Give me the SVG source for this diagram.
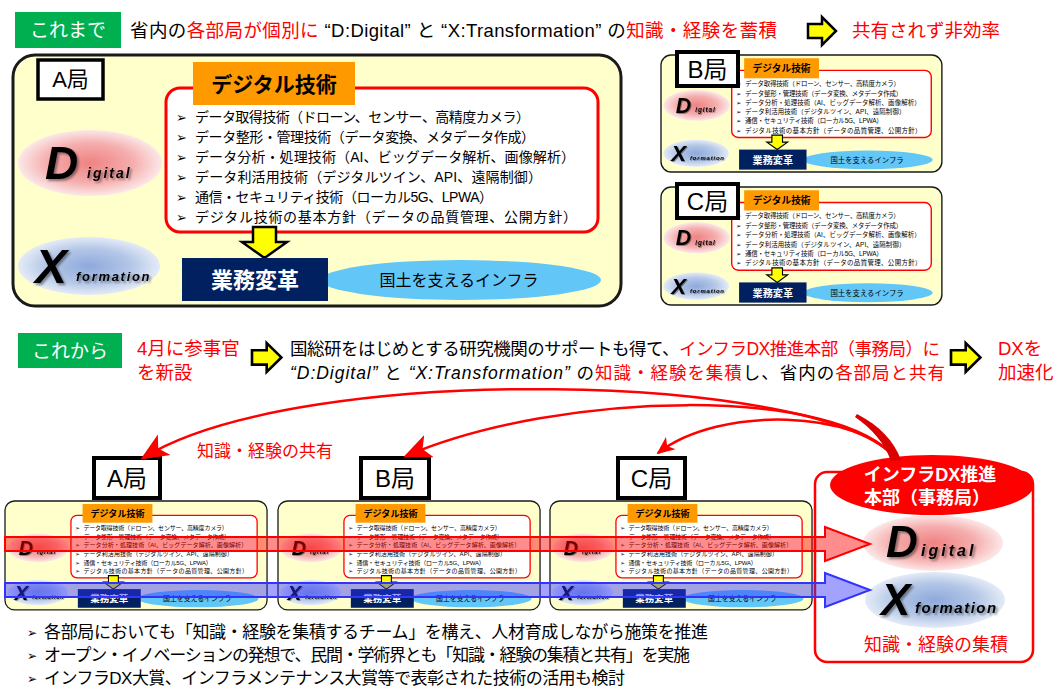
<svg xmlns="http://www.w3.org/2000/svg" xmlns:xlink="http://www.w3.org/1999/xlink" width="1059" height="689" viewBox="0 0 1059 689">
<style>
text { font-family: "Liberation Sans", "Noto Sans CJK JP", sans-serif; fill: #000; }
.red { fill: #FF0000; }
.wht { fill: #FFFFFF; }
.it { font-style: italic; }
.b { font-weight: bold; }
.mid { text-anchor: middle; }
.bul { font-family: "DejaVu Sans", sans-serif; }
.bigL { font-family: "Liberation Sans", sans-serif; font-weight: bold; font-style: italic; filter: url(#sh); }
.lbl { fill: #FFFFFF; stroke: #000; stroke-width: 4; }
.yarr { fill: #FFFF00; stroke: #000; stroke-width: 2.5; stroke-linejoin: miter; }
.green { fill: #00B050; }
.curve { fill: none; stroke: #FF0000; stroke-width: 2.5; }
</style>
<defs>
  <radialGradient id="gD" cx="0.5" cy="0.5" r="0.5">
    <stop offset="0" stop-color="#F08282"/>
    <stop offset="0.6" stop-color="#F5AEAE"/>
    <stop offset="1" stop-color="#FCE8E8"/>
  </radialGradient>
  <radialGradient id="gX" cx="0.5" cy="0.5" r="0.5">
    <stop offset="0" stop-color="#8EA9DB"/>
    <stop offset="0.6" stop-color="#B4C7E7"/>
    <stop offset="1" stop-color="#E4EBF7"/>
  </radialGradient>
  <filter id="sh" x="-30%" y="-30%" width="160%" height="160%">
    <feDropShadow dx="2" dy="2" stdDeviation="1.2" flood-color="#000" flood-opacity="0.4"/>
  </filter>
  <marker id="ah" markerUnits="userSpaceOnUse" markerWidth="28" markerHeight="28" viewBox="0 0 28 28" refX="25" refY="14" orient="auto">
    <path d="M0,2 L28,14 L0,26 L7,14 Z" fill="#FF0000"/>
  </marker>
  <marker id="ah2" markerUnits="userSpaceOnUse" markerWidth="18" markerHeight="18" viewBox="0 0 28 28" refX="25" refY="14" orient="auto">
    <path d="M0,2 L28,14 L0,26 L7,14 Z" fill="#FF0000"/>
  </marker>
  <path id="yarr" d="M0,7 H14 V0 L28,14 L14,28 V21 H0 Z"/>
  <g id="panelContent">
    <rect x="0" y="0" width="608" height="251" rx="22" fill="#FFFFCC" stroke="#1a1a1a" stroke-width="3"/>
    <ellipse cx="77" cy="108" rx="72" ry="33" fill="url(#gD)"/>
    <text x="32" y="124" class="bigL" font-size="46">D</text>
    <text x="74" y="123" class="bigL" font-size="14" letter-spacing="2">igital</text>
    <ellipse cx="76" cy="211" rx="71" ry="29" fill="url(#gX)"/>
    <text x="22" y="228" class="bigL" font-size="48">X</text>
    <text x="63" y="226" class="bigL" font-size="13" letter-spacing="1.7">formation</text>
    <rect x="153" y="33" width="432" height="144" rx="14" fill="#FFFFFF" stroke="#FF0000" stroke-width="3"/>
    <rect x="180" y="7" width="162" height="43" fill="#FF9900"/>
    <text x="261" y="37" font-size="21" class="b mid">デジタル技術</text>
    <g font-size="13">
      <text class="bul" x="163" y="67">➢</text>
      <text class="bul" x="163" y="87">➢</text>
      <text class="bul" x="163" y="107">➢</text>
      <text class="bul" x="163" y="127">➢</text>
      <text class="bul" x="163" y="147">➢</text>
      <text class="bul" x="163" y="167">➢</text>
    </g>
    <g font-size="14">
      <text x="182" y="67" textLength="335">データ取得技術（ドローン、センサー、高精度カメラ）</text>
      <text x="182" y="87" textLength="340">データ整形・管理技術（データ変換、メタデータ作成）</text>
      <text x="182" y="107" textLength="380">データ分析・処理技術（AI、ビッグデータ解析、画像解析）</text>
      <text x="182" y="127" textLength="347">データ利活用技術（デジタルツイン、API、遠隔制御）</text>
      <text x="182" y="147" textLength="298">通信・セキュリティ技術（ローカル5G、LPWA）</text>
      <text x="182" y="167" textLength="382">デジタル技術の基本方針（データの品質管理、公開方針）</text>
    </g>
    <path d="M240,172 H263 V187 H274 L251.5,203 L229,187 H240 Z" fill="#FFFF00" stroke="#000" stroke-width="2.5"/>
    <ellipse cx="448" cy="225" rx="140" ry="20" fill="#62C6F6"/>
    <rect x="169" y="203" width="146" height="43" fill="#002060"/>
    <text x="242" y="233" font-size="22" class="b mid wht">業務変革</text>
    <text x="446" y="231" font-size="16" class="mid">国土を支えるインフラ</text>
  </g>
</defs>

<!-- Header: これまで -->
<g id="header-before">
  <rect class="green" x="15" y="12" width="106" height="36"/>
  <text x="68" y="37" font-size="19" class="mid wht">これまで</text>
  <text x="130" y="37" font-size="18.5" textLength="647"><tspan>省内の</tspan><tspan class="red">各部局が個別に</tspan><tspan> “D:Digital” と “X:Transformation” の</tspan><tspan class="red">知識・経験を蓄積</tspan></text>
  <use href="#yarr" class="yarr" transform="translate(808,17)"/>
  <text x="852" y="37" font-size="18.5" class="red">共有されず非効率</text>
</g>

<!-- Top A panel -->
<g id="panelA-top">
  <use href="#panelContent" transform="translate(13,55)"/>
  <rect x="38" y="60" width="65" height="39" fill="#FFFFFF" stroke="#000" stroke-width="3.5"/>
  <text x="70.5" y="87" font-size="22" class="mid">A局</text>
</g>
<g id="panelB-top">
  <use href="#panelContent" transform="translate(661,55) scale(0.462,0.466)"/>
  <rect class="lbl" x="677" y="52" width="61" height="34"/>
  <text x="707.5" y="78" font-size="24" class="mid">B局</text>
</g>
<g id="panelC-top">
  <use href="#panelContent" transform="translate(661,187) scale(0.462,0.47)"/>
  <rect class="lbl" x="677" y="184" width="61" height="34"/>
  <text x="707.5" y="210" font-size="24" class="mid">C局</text>
</g>

<!-- Header: これから -->
<g id="header-after">
  <rect class="green" x="18" y="333" width="104" height="35"/>
  <text x="70" y="358" font-size="19" class="mid wht">これから</text>
  <text x="137" y="355" font-size="18.5" class="red">4月に参事官</text>
  <text x="137" y="379" font-size="18.5" class="red">を新設</text>
  <use href="#yarr" class="yarr" transform="translate(252,343) scale(1.05,1.03)"/>
  <text x="290" y="355" font-size="17.5" textLength="650"><tspan>国総研をはじめとする研究機関のサポートも得て、</tspan><tspan class="red">インフラDX推進本部（事務局）に</tspan></text>
  <text x="290" y="379" font-size="17.5" textLength="655"><tspan class="it">“D:Digital”</tspan><tspan> と </tspan><tspan class="it">“X:Transformation”</tspan><tspan> の</tspan><tspan class="red">知識・経験を集積</tspan><tspan>し、省内の</tspan><tspan class="red">各部局と共有</tspan></text>
  <use href="#yarr" class="yarr" transform="translate(951,343) scale(1.05,1.03)"/>
  <text x="998" y="355" font-size="18.5" class="red">DXを</text>
  <text x="998" y="379" font-size="18.5" class="red">加速化</text>
</g>

<!-- Bottom panels -->
<g id="panelA-bottom">
  <use href="#panelContent" transform="translate(5,501) scale(0.431,0.434)"/>
  <rect class="lbl" x="94" y="458" width="66" height="40"/>
  <text x="127" y="487" font-size="24" class="mid">A局</text>
</g>
<g id="panelB-bottom">
  <use href="#panelContent" transform="translate(278,501) scale(0.431,0.434)"/>
  <rect class="lbl" x="361" y="458" width="68" height="40"/>
  <text x="395" y="487" font-size="24" class="mid">B局</text>
</g>
<g id="panelC-bottom">
  <use href="#panelContent" transform="translate(550,501) scale(0.431,0.434)"/>
  <rect class="lbl" x="618" y="458" width="67" height="40"/>
  <text x="651.5" y="487" font-size="24" class="mid">C局</text>
</g>

<!-- HQ box -->
<g id="hq">
  <rect x="815" y="472" width="218" height="190" rx="12" fill="#FFFFFF" stroke="#FF0000" stroke-width="2.5"/>
  <ellipse cx="933" cy="543" rx="70" ry="28" fill="url(#gD)"/>
  <text x="886" y="557" class="bigL" font-size="44">D</text>
  <text x="921" y="556" class="bigL" font-size="16" letter-spacing="3">igital</text>
  <ellipse cx="935" cy="600" rx="70" ry="28" fill="url(#gX)"/>
  <text x="881" y="615" class="bigL" font-size="44">X</text>
  <text x="915" y="613" class="bigL" font-size="15" letter-spacing="1.5">formation</text>
  <text x="936" y="651" font-size="18" class="red mid">知識・経験の集積</text>
  <ellipse cx="932" cy="485" rx="102" ry="30" fill="#FF0000"/>
  <text x="930" y="481" font-size="18" class="b mid wht">インフラDX推進</text>
  <text x="927" y="504" font-size="18" class="b mid wht">本部（事務局）</text>
</g>

<!-- Connectors -->
<g id="connectors">
  <path class="curve" d="M897,460 C830,372 300,360 143,458" marker-end="url(#ah)"/>
  <path class="curve" d="M897,460 C840,385 560,390 406,456" marker-end="url(#ah)"/>
  <path class="curve" stroke-width="2" d="M897,460 C860,410 720,405 658,453" marker-end="url(#ah2)"/>
  <path d="M891,461 C884,442 872,429 855,417 L857,414 C880,426 894,441 901,460 Z" fill="#D80000"/>
  <polygon points="5,537 825,537 825,527 870,544 825,561 825,551 5,551" fill="#FF0000" fill-opacity="0.45" stroke="#FF0000" stroke-width="2"/>
  <polygon points="5,583 825,583 825,573 870,590 825,607 825,597 5,597" fill="#3333FF" fill-opacity="0.45" stroke="#3333FF" stroke-width="2"/>
</g>
<text x="197" y="457" font-size="17" class="red">知識・経験の共有</text>

<!-- Bottom bullets -->
<g id="notes" font-size="17">
  <text class="bul" x="27" y="637" font-size="12">➢</text>
  <text class="bul" x="27" y="660" font-size="12">➢</text>
  <text class="bul" x="27" y="683" font-size="12">➢</text>
  <text x="44" y="638" textLength="664">各部局においても「知識・経験を集積するチーム」を構え、人材育成しながら施策を推進</text>
  <text x="44" y="661" textLength="646">オープン・イノベーションの発想で、民間・学術界とも「知識・経験の集積と共有」を実施</text>
  <text x="44" y="684" textLength="581">インフラDX大賞、インフラメンテナンス大賞等で表彰された技術の活用も検討</text>
</g>
</svg>
